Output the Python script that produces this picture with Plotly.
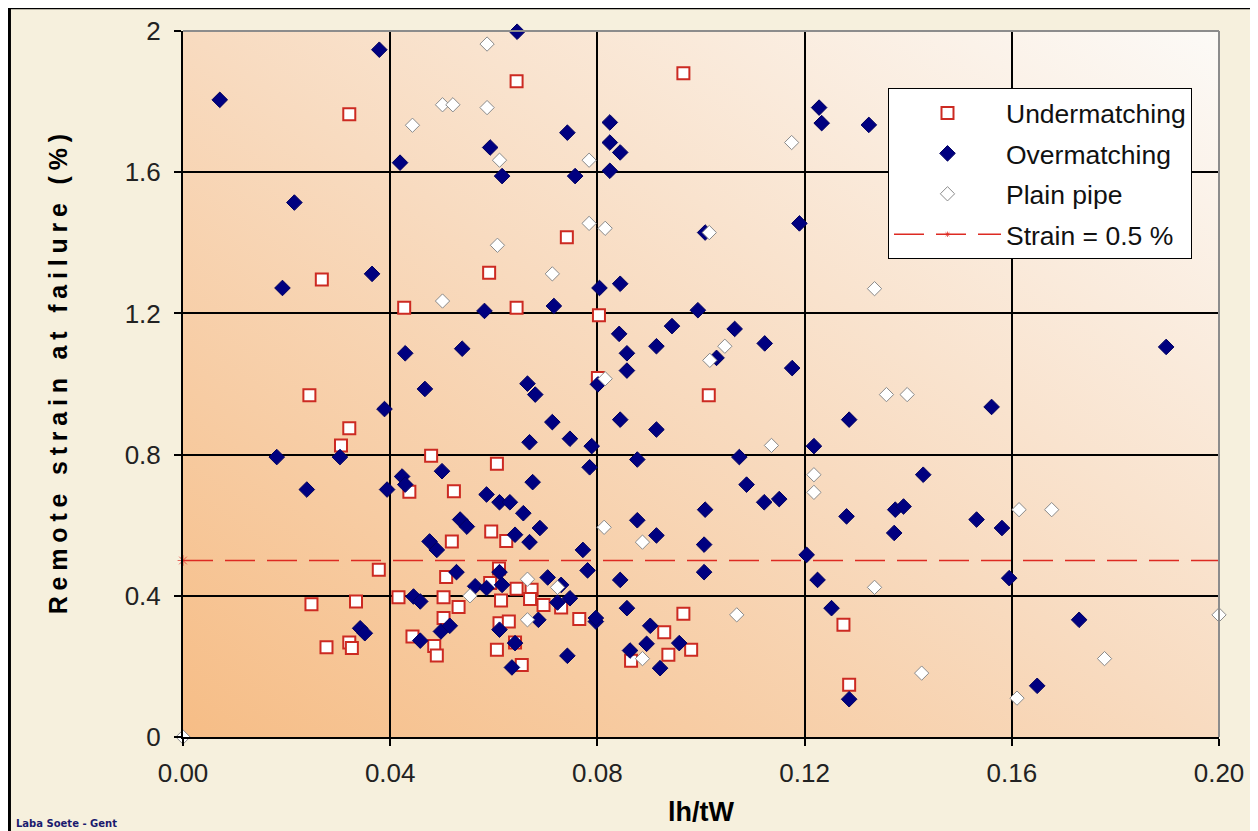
import base64
import plotly.graph_objects as go

# ---------------- data ----------------
under_x = [0.0321, 0.0268, 0.0591, 0.0427, 0.0644, 0.0644, 0.0966, 0.0741, 0.0803, 0.0801,
           0.1015, 0.0244, 0.0321, 0.0305, 0.0479, 0.0606, 0.0437, 0.0523, 0.0595, 0.0519,
           0.0624, 0.0378, 0.0610, 0.0508, 0.0593, 0.0644, 0.0416, 0.0503, 0.0614, 0.0532,
           0.0334, 0.0248, 0.0503, 0.0611, 0.0629, 0.0443, 0.0485, 0.0490, 0.0606, 0.0641,
           0.0654, 0.0321, 0.0326, 0.0277, 0.0673, 0.0670, 0.0696, 0.0730, 0.0765, 0.0966,
           0.0929, 0.0981, 0.0937, 0.0865, 0.1275, 0.1286]
under_y = [1.764, 1.296, 1.315, 1.216, 1.216, 1.858, 1.880, 1.416, 1.195, 1.017,
           0.968, 0.968, 0.875, 0.826, 0.797, 0.774, 0.695, 0.696, 0.582, 0.554,
           0.555, 0.474, 0.477, 0.453, 0.436, 0.420, 0.396, 0.396, 0.387, 0.368,
           0.384, 0.376, 0.337, 0.322, 0.327, 0.285, 0.258, 0.231, 0.247, 0.268,
           0.204, 0.268, 0.252, 0.254, 0.417, 0.391, 0.374, 0.367, 0.334, 0.349,
           0.297, 0.247, 0.233, 0.216, 0.318, 0.148]

over_x = [0.0379, 0.0645, 0.0071, 0.0593, 0.0616, 0.0419, 0.0215, 0.0365, 0.0192, 0.0582,
          0.0429, 0.0539, 0.0742, 0.0824, 0.0824, 0.0844, 0.0757, 0.0824, 0.1228, 0.1233,
          0.1324, 0.1190, 0.1008, 0.0804, 0.0844, 0.0716, 0.0994, 0.0944, 0.1065, 0.0842,
          0.1123, 0.0914, 0.0857, 0.1176, 0.0857, 0.1030, 0.0665, 0.0680, 0.0801, 0.0713,
          0.0747, 0.0669, 0.0789, 0.0785, 0.0844, 0.0914, 0.1286, 0.1218, 0.0877, 0.1074,
          0.1088, 0.1122, 0.1151, 0.0675, 0.0657, 0.0689, 0.0669, 0.0877, 0.0914, 0.1008,
          0.1006, 0.1281, 0.1204, 0.0772, 0.0781, 0.0704, 0.0730, 0.0844, 0.1006, 0.1225,
          0.0723, 0.0747, 0.0686, 0.0797, 0.0797, 0.0857, 0.1252, 0.0902, 0.0895, 0.0958,
          0.0863, 0.0921, 0.0742, 0.1286, 0.1561, 0.1429, 0.1375, 0.1391, 0.1373, 0.1532,
          0.1581, 0.1595, 0.1730, 0.1649, 0.1898, 0.0467, 0.0389, 0.0181, 0.0303, 0.0239,
          0.0394, 0.0423, 0.0429, 0.0500, 0.0586, 0.0611, 0.0631, 0.0535, 0.0548, 0.0641,
          0.0476, 0.0490, 0.0528, 0.0611, 0.0564, 0.0586, 0.0616, 0.0445, 0.0458, 0.0342,
          0.0351, 0.0458, 0.0498, 0.0515, 0.0611, 0.0641, 0.0635]
over_y = [1.947, 1.998, 1.805, 1.670, 1.589, 1.627, 1.514, 1.312, 1.272, 1.207,
          1.087, 1.100, 1.712, 1.741, 1.684, 1.656, 1.589, 1.604, 1.783, 1.739,
          1.734, 1.455, 1.429, 1.272, 1.284, 1.221, 1.209, 1.164, 1.156, 1.142,
          1.115, 1.107, 1.087, 1.045, 1.038, 1.074, 1.001, 0.970, 0.999, 0.892,
          0.845, 0.835, 0.824, 0.764, 0.899, 0.871, 0.899, 0.824, 0.786, 0.793,
          0.715, 0.665, 0.674, 0.722, 0.634, 0.592, 0.552, 0.614, 0.571, 0.644,
          0.545, 0.625, 0.516, 0.530, 0.472, 0.452, 0.431, 0.445, 0.467, 0.445,
          0.381, 0.393, 0.332, 0.327, 0.337, 0.365, 0.365, 0.315, 0.264, 0.266,
          0.245, 0.195, 0.230, 0.107, 0.935, 0.743, 0.644, 0.653, 0.578, 0.616,
          0.592, 0.450, 0.332, 0.145, 1.105, 0.986, 0.929, 0.793, 0.793, 0.701,
          0.701, 0.738, 0.715, 0.753, 0.687, 0.665, 0.665, 0.616, 0.596, 0.573,
          0.554, 0.530, 0.467, 0.467, 0.427, 0.422, 0.431, 0.398, 0.384, 0.308,
          0.294, 0.273, 0.299, 0.315, 0.304, 0.266, 0.197]

plain_x = [0.0587, 0.0501, 0.0521, 0.0587, 0.0443, 0.0611, 0.0607, 0.0501, 0.0784, 0.1175,
           0.0784, 0.0815, 0.1016, 0.0713, 0.1335, 0.0815, 0.1046, 0.1017, 0.1136, 0.1218,
           0.1218, 0.0813, 0.0887, 0.0665, 0.0723, 0.0665, 0.1069, 0.0887, 0.1335, 0.0554,
           0.0000, 0.1358, 0.1398, 0.1614, 0.1677, 0.2000, 0.1779, 0.1426, 0.1610]
plain_y = [1.963, 1.791, 1.791, 1.783, 1.733, 1.634, 1.393, 1.235, 1.634, 1.684,
           1.455, 1.441, 1.429, 1.312, 1.270, 1.015, 1.107, 1.067, 0.826, 0.743,
           0.693, 0.594, 0.552, 0.447, 0.424, 0.332, 0.346, 0.222, 0.424, 0.400,
           0.000, 0.970, 0.970, 0.644, 0.644, 0.346, 0.222, 0.181, 0.110]

limit_x = [0.0, 0.2]
limit_y = [0.5, 0.5]

x_ticks = [0.00, 0.04, 0.08, 0.12, 0.16, 0.20]
x_tick_text = ["0.00", "0.04", "0.08", "0.12", "0.16", "0.20"]
y_ticks = [0, 0.4, 0.8, 1.2, 1.6, 2]
y_tick_text = ["0", "0.4", "0.8", "1.2", "1.6", "2"]

# ---------------- styling ----------------
FONT = "Liberation Sans, Arial, sans-serif"

svg = ('<svg xmlns="http://www.w3.org/2000/svg" width="1036" height="706" '
       'viewBox="0 0 1036 706" preserveAspectRatio="none">'
       '<defs><linearGradient id="g" x1="0" y1="1" x2="1" y2="0">'
       '<stop offset="0" stop-color="#f6bd86"/>'
       '<stop offset="0.5" stop-color="#f8dbc0"/>'
       '<stop offset="1" stop-color="#fcfaf7"/>'
       '</linearGradient></defs>'
       '<rect width="1036" height="706" fill="url(#g)"/></svg>')
bg_src = "data:image/svg+xml;base64," + base64.b64encode(svg.encode()).decode()

fig = go.Figure()

fig.add_trace(go.Scatter(
    x=under_x, y=under_y, mode="markers", name="Undermatching", legendgroup="a",
    marker=dict(symbol="square", size=12, color="white",
                line=dict(color="#cc2a22", width=2)),
    cliponaxis=False))

fig.add_trace(go.Scatter(
    x=over_x, y=over_y, mode="markers", name="Overmatching", legendgroup="b",
    marker=dict(symbol="diamond", size=12, color="#000080",
                line=dict(color="#000060", width=1)),
    cliponaxis=False))

fig.add_trace(go.Scatter(
    x=plain_x, y=plain_y, mode="markers", name="Plain pipe", legendgroup="c",
    marker=dict(symbol="diamond", size=11, color="white",
                line=dict(color="#8a8a8a", width=1)),
    cliponaxis=False))

fig.add_trace(go.Scatter(
    x=limit_x, y=limit_y, mode="lines+markers", name="Strain = 0.5 %", legendgroup="d",
    line=dict(color="#dd2a22", width=1.5, dash="30px,12px"),
    marker=dict(symbol="asterisk-open", size=[9, 0], color="#dd2a22",
                line=dict(color="#dd2a22", width=1)),
    cliponaxis=False))

fig.update_layout(
    width=1250, height=823,
    margin=dict(l=175, r=39, t=23, b=94, autoexpand=False),
    paper_bgcolor="#f6f0dd",
    plot_bgcolor="rgba(0,0,0,0)",
    font=dict(family=FONT, size=26, color="#222222"),
    showlegend=True,
    legend=dict(
        x=0.6805, y=0.919, xanchor="left", yanchor="top",
        bgcolor="#ffffff", bordercolor="#000000", borderwidth=1,
        font=dict(family=FONT, size=26.5, color="#111111"),
        itemwidth=107, tracegroupgap=3,
    ),
    images=[dict(source=bg_src, xref="paper", yref="paper", x=0, y=1,
                 sizex=1, sizey=1, xanchor="left", yanchor="top",
                 sizing="stretch", layer="below")],
    xaxis=dict(
        range=[0, 0.2], tickvals=x_ticks, ticktext=x_tick_text, automargin=False,
        showgrid=True, gridcolor="#000000", gridwidth=2, zeroline=False,
        showline=True, linecolor="#000000", linewidth=2,
        ticks="outside", ticklen=7, tickwidth=2, tickcolor="#000000",
        ticklabelstandoff=5,
        tickfont=dict(family=FONT, size=26, color="#222222"),
        title=dict(text="lh/tW", standoff=15,
                   font=dict(family=FONT, size=27, color="#000000", weight="bold")),
    ),
    yaxis=dict(
        range=[0, 2], tickvals=y_ticks, ticktext=y_tick_text, automargin=False,
        showgrid=True, gridcolor="#000000", gridwidth=2, zeroline=False,
        showline=True, linecolor="#000000", linewidth=2,
        ticks="outside", ticklen=7, tickwidth=2, tickcolor="#000000",
        ticklabelstandoff=8,
        tickfont=dict(family=FONT, size=26, color="#222222"),
    ),
    shapes=[
        # top and right plot border in grey
        dict(type="line", xref="paper", yref="paper", x0=0, x1=1, y0=1, y1=1,
             line=dict(color="#8c8c8c", width=2), layer="above"),
        dict(type="line", xref="paper", yref="paper", x0=1, x1=1, y0=0, y1=1,
             line=dict(color="#8c8c8c", width=2), layer="above"),
        # outer frame (left and top edges of the chart area)
        dict(type="line", xref="paper", yref="paper", x0=-0.1675, x1=-0.1675,
             y0=-0.2, y1=1.034, line=dict(color="#000000", width=3), layer="above"),
        dict(type="line", xref="paper", yref="paper", x0=-0.1675, x1=1.1,
             y0=1.033, y1=1.033, line=dict(color="#000000", width=3), layer="above"),
    ],
    annotations=[
        dict(text="<span style='letter-spacing:5.8px'>Remote strain at failure (%)</span>",
             xref="paper", yref="paper", x=-0.1207, y=0.518, textangle=-90,
             xanchor="center", yanchor="middle", showarrow=False,
             font=dict(family=FONT, size=25, color="#000000", weight="bold")),
        dict(text="Laba Soete - Gent", xref="paper", yref="paper",
             x=-0.163, y=-0.123, xanchor="left", yanchor="middle", showarrow=False,
             font=dict(family="DejaVu Sans", size=10, color="#1a1a6e", weight="bold")),
    ],
)

fig.write_html("out.html")
